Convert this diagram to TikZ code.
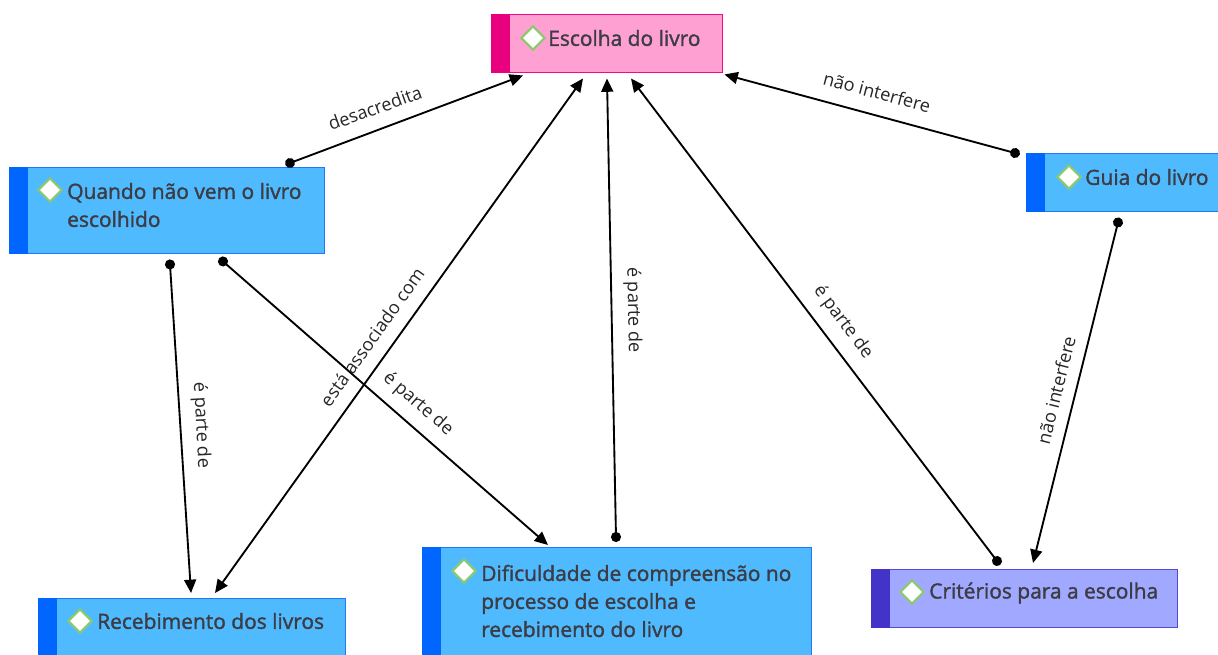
\documentclass[tikz,border=0pt]{standalone}
\usepackage{fontspec}
\setmainfont{Open Sans}
\newfontfamily\boxfont{Open Sans}[FakeBold=1.6]
\usetikzlibrary{arrows.meta,shapes.geometric,calc}
\definecolor{pinkfill}{HTML}{FFA0D2}
\definecolor{pinkline}{HTML}{F00C85}
\definecolor{pinkbar}{HTML}{E8007F}
\definecolor{bluefill}{HTML}{50BAFF}
\definecolor{blueline}{HTML}{1E78FF}
\definecolor{bluebar}{HTML}{0066FF}
\definecolor{violetfill}{HTML}{A0A8FF}
\definecolor{violetline}{HTML}{5548D6}
\definecolor{violetbar}{HTML}{4433C8}
\definecolor{txtcol}{HTML}{3C3C44}
\definecolor{diamline}{HTML}{8CC86C}
\begin{document}
\begin{tikzpicture}[x=0.75pt,y=-0.75pt,
  box/.style={rectangle, line width=1.1pt, inner sep=0pt, anchor=north west},
  diam/.style={diamond, draw=diamline, fill=white, line width=1.6pt, minimum width=18pt, minimum height=18pt, inner sep=0pt},
  txt/.style={text=txtcol, font=\boxfont\fontsize{15.7}{21}\selectfont, align=left, inner sep=0pt, anchor=west},
  lbl/.style={text=black!85, font=\fontsize{13.6}{15}\selectfont, inner sep=0pt},
  conn/.style={line width=1.4pt, black},
  dotarrow/.style={conn, {Circle[length=7.5pt]}-{Triangle[length=10pt,width=9pt]}, shorten <=-3.75pt},
  twoarrow/.style={conn, {Triangle[length=10pt,width=9pt]}-{Triangle[length=10pt,width=9pt]}}
]
\useasboundingbox (0,0) rectangle (1218,655);

% boxes
\node[box, fill=pinkfill, draw=pinkline, minimum width=173.25pt, minimum height=43.5pt] (esc) at (491,14) {};
\fill[pinkbar] (esc.north west) rectangle ($(esc.south west)+(19,0)$);
\node[box, fill=bluefill, draw=blueline, minimum width=236.25pt, minimum height=64.5pt] (quando) at (9,167) {};
\fill[bluebar] (quando.north west) rectangle ($(quando.south west)+(19,0)$);
\node[box, fill=bluefill, draw=blueline, minimum width=150pt, minimum height=43.5pt] (guia) at (1026,153) {};
\fill[bluebar] (guia.north west) rectangle ($(guia.south west)+(19,0)$);
\node[box, fill=bluefill, draw=blueline, minimum width=230.25pt, minimum height=45pt] (receb) at (38,598) {};
\fill[bluebar] (receb.north west) rectangle ($(receb.south west)+(19,0)$);
\node[box, fill=bluefill, draw=blueline, minimum width=291.75pt, minimum height=84pt] (dific) at (422,547) {};
\fill[bluebar] (dific.north west) rectangle ($(dific.south west)+(19,0)$);
\node[box, fill=violetfill, draw=violetline, minimum width=229.5pt, minimum height=43.5pt] (crit) at (871,569) {};
\fill[violetbar] (crit.north west) rectangle ($(crit.south west)+(19,0)$);

% icons and texts
\node[diam] (escd) at ($(esc.north west)+(42,24)$) {};
\node[txt] (esct) at ($(esc.north west)+(57,24)$) {Escolha do livro};
\node[diam] (quandod) at ($(quando.north west)+(41,23)$) {};
\node[txt] (quandot) at ($(quando.north west)+(58,38)$) {Quando não vem o livro\\escolhido};
\node[diam] (guiad) at ($(guia.north west)+(43,24)$) {};
\node[txt] (guiat) at ($(guia.north west)+(59,24)$) {Guia do livro};
\node[diam] (recebd) at ($(receb.north west)+(42,23)$) {};
\node[txt] (recebt) at ($(receb.north west)+(59,23)$) {Recebimento dos livros};
\node[diam] (dificd) at ($(dific.north west)+(42,24)$) {};
\node[txt] (dialt) at ($(dific.north west)+(59,54)$) {Dificuldade de compreensão no\\processo de escolha e\\recebimento do livro};
\node[diam] (critd) at ($(crit.north west)+(41,23)$) {};
\node[txt] (critt) at ($(crit.north west)+(58,24)$) {Critérios para a escolha};

% connectors
\draw[dotarrow] ($(quando.north west)+(281,-4)$) -- ($(esc.south west)+(32,2)$);
\draw[dotarrow] ($(guia.north west)+(-11,0)$) -- ($(esc.south east)+(1,1)$);
\draw[twoarrow] ($(esc.south west)+(92,5)$) -- ($(receb.north west)+(177,-5)$);
\draw[dotarrow] ($(quando.south west)+(214,7)$) -- ($(dific.north west)+(126,-2)$);
\draw[dotarrow] ($(quando.south west)+(161,10)$) -- ($(receb.north west)+(153,-5)$);
\draw[dotarrow] ($(dific.north west)+(194,-10)$) -- ($(esc.south west)+(116,5)$);
\draw[dotarrow] ($(crit.north west)+(126,-8)$) -- ($(esc.south west)+(140,5)$);
\draw[dotarrow] ($(guia.south west)+(92,10)$) -- ($(crit.north west)+(162,-6)$);

% labels
\node[lbl, rotate=19.7] (l1) at (375,108) {desacredita};
\node[lbl, rotate=-15] (l2) at (877,92) {não interfere};
\node[lbl, rotate=54.4] (l3) at (372,337) {está associado com};
\node[lbl, rotate=-41] (l4) at (418,404) {é parte de};
\node[lbl, rotate=-87] (l5) at (201,425) {é parte de};
\node[lbl, rotate=-89] (l6) at (633,310) {é parte de};
\node[lbl, rotate=-53] (l7) at (843,322) {é parte de};
\node[lbl, rotate=76] (l8) at (1056,390) {não interfere};
\end{tikzpicture}
\end{document}
